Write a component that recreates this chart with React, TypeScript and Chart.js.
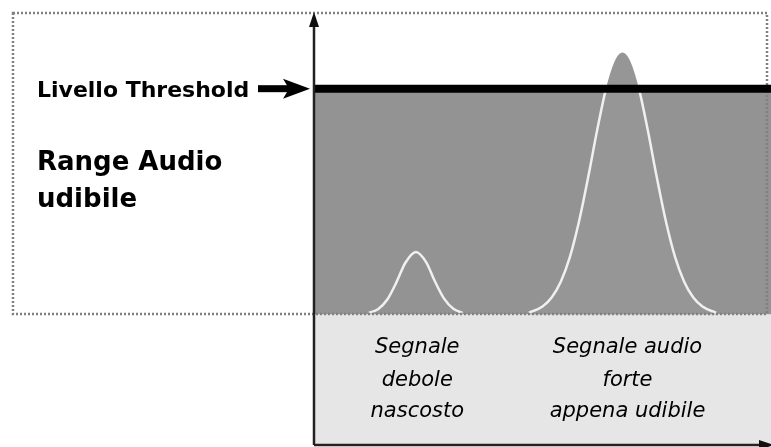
import React, { useEffect, useRef } from "react";
import { Chart, registerables } from "chart.js";

Chart.register(...registerables);

// Scale settings (arbitrary level units; baseline of audible range = 0, threshold = 50)
const X_MIN = 0;
const X_MAX = 100;
const Y_MIN = -29;
const Y_MAX = 67;
const BASELINE = 0;
const THRESHOLD = 50;

// Weak hidden signal (small peak)
const weakX = [12, 14, 16, 18, 20, 22.3, 24.5, 26.5, 28.5, 30.5, 32.5];
const weakY = [0.3, 1.1, 3.2, 7.0, 11.4, 13.8, 11.6, 7.2, 3.4, 1.2, 0.3];

// Strong signal (big peak, just above threshold)
const strongX = [47, 50, 52, 54, 56, 58, 60, 62, 64, 66, 67.5, 69, 71, 73, 75, 77, 79, 81, 83, 85, 88];
const strongY = [0.3, 1.7, 3.7, 7.2, 12.7, 20.6, 30.4, 41, 50.4, 56.5, 58, 56.5, 50.4, 41, 30.4, 20.6, 12.7, 7.2, 3.7, 1.7, 0.3];

// Texts
const thresholdLabel = "Livello Threshold";
const rangeLabel = ["Range Audio", "udibile"];
const weakLabel = ["Segnale", "debole", "nascosto"];
const strongLabel = ["Segnale audio", "forte", "appena udibile"];
const weakLabelX = 22.6;
const strongLabelX = 68.6;

const toPoints = (xs: number[], ys: number[]) => xs.map((x, i) => ({ x, y: ys[i] }));

const FONT = '"DejaVu Sans", sans-serif';

const decorPlugin = {
  id: "decor",
  afterDatasetsDraw(chart: any) {
    const { ctx, chartArea, scales } = chart;
    const xs = scales.x;
    const ys = scales.y;
    const baseY = ys.getPixelForValue(BASELINE);
    const thrY = ys.getPixelForValue(THRESHOLD);
    ctx.save();

    // dotted frame of the "audible range"
    ctx.strokeStyle = "#808080";
    ctx.lineWidth = 2.5;
    ctx.setLineDash([2, 2]);
    ctx.strokeRect(13, 13, 754, Math.round(baseY) - 13);
    ctx.setLineDash([]);

    // threshold line on top
    ctx.strokeStyle = "#000";
    ctx.lineWidth = 8;
    ctx.beginPath();
    ctx.moveTo(chartArea.left, thrY);
    ctx.lineTo(chartArea.right, thrY);
    ctx.stroke();

    // axes
    ctx.strokeStyle = "#222";
    ctx.fillStyle = "#111";
    ctx.lineWidth = 2.5;
    ctx.beginPath();
    ctx.moveTo(chartArea.left, chartArea.bottom);
    ctx.lineTo(chartArea.left, chartArea.top + 6);
    ctx.moveTo(chartArea.left, chartArea.bottom);
    ctx.lineTo(chartArea.right - 6, chartArea.bottom);
    ctx.stroke();
    ctx.beginPath();
    ctx.moveTo(chartArea.left, chartArea.top);
    ctx.lineTo(chartArea.left - 5, chartArea.top + 15);
    ctx.lineTo(chartArea.left + 5, chartArea.top + 15);
    ctx.closePath();
    ctx.fill();
    ctx.beginPath();
    ctx.moveTo(chartArea.right + 3, chartArea.bottom);
    ctx.lineTo(chartArea.right - 12, chartArea.bottom - 5);
    ctx.lineTo(chartArea.right - 12, chartArea.bottom + 5);
    ctx.closePath();
    ctx.fill();

    // threshold arrow
    const tipX = chartArea.left - 4;
    ctx.fillStyle = "#000";
    ctx.strokeStyle = "#000";
    ctx.lineWidth = 7;
    ctx.beginPath();
    ctx.moveTo(tipX - 52, thrY);
    ctx.lineTo(tipX - 20, thrY);
    ctx.stroke();
    ctx.beginPath();
    ctx.moveTo(tipX, thrY);
    ctx.lineTo(tipX - 27, thrY - 10);
    ctx.lineTo(tipX - 21, thrY);
    ctx.lineTo(tipX - 27, thrY + 10);
    ctx.closePath();
    ctx.fill();

    // texts
    ctx.fillStyle = "#000";
    ctx.textAlign = "left";
    ctx.textBaseline = "alphabetic";
    ctx.font = `bold 22px ${FONT}`;
    ctx.fillText(thresholdLabel, 37, thrY + 8);
    ctx.font = `bold 26px ${FONT}`;
    ctx.fillText(rangeLabel[0], 37, 170);
    ctx.fillText(rangeLabel[1], 37, 207);

    ctx.font = `italic 21px ${FONT}`;
    ctx.textAlign = "center";
    const lineYs = [chartArea.bottom - 92, chartArea.bottom - 59, chartArea.bottom - 28];
    weakLabel.forEach((t, i) => ctx.fillText(t, xs.getPixelForValue(weakLabelX), lineYs[i]));
    strongLabel.forEach((t, i) => ctx.fillText(t, xs.getPixelForValue(strongLabelX), lineYs[i]));
    ctx.restore();
  },
};

export default function App() {
  const ref = useRef<HTMLCanvasElement | null>(null);
  useEffect(() => {
    if (!ref.current) return;
    const above = (ctx: any) =>
      ctx.p0.parsed.y >= THRESHOLD && ctx.p1.parsed.y >= THRESHOLD ? "rgba(0,0,0,0)" : undefined;
    const chart = new Chart(ref.current, {
      type: "line",
      data: {
        datasets: [
          {
            label: "lower band",
            data: toPoints([X_MIN, X_MAX], [BASELINE, BASELINE]),
            fill: "start",
            backgroundColor: "#e6e6e6",
            borderWidth: 0,
            pointRadius: 0,
            order: 6,
          },
          {
            label: "audible range",
            data: toPoints([X_MIN, X_MAX], [THRESHOLD, THRESHOLD]),
            fill: { value: BASELINE },
            backgroundColor: "#939393",
            borderWidth: 0,
            pointRadius: 0,
            order: 5,
          },
          {
            label: "strong fill",
            data: toPoints(strongX, strongY),
            fill: { value: BASELINE },
            backgroundColor: "#969696",
            borderWidth: 0,
            pointRadius: 0,
            cubicInterpolationMode: "monotone",
            order: 4,
          },
          {
            label: "strong line",
            data: toPoints(strongX, strongY),
            fill: false,
            borderColor: "#f0f0f0",
            borderWidth: 2.5,
            pointRadius: 0,
            cubicInterpolationMode: "monotone",
            segment: { borderColor: above },
            order: 3,
          },
          {
            label: "weak line",
            data: toPoints(weakX, weakY),
            fill: false,
            borderColor: "#f0f0f0",
            borderWidth: 2.5,
            pointRadius: 0,
            cubicInterpolationMode: "monotone",
            order: 3,
          },
        ],
      },
      options: {
        animation: false,
        responsive: false,
        maintainAspectRatio: false,
        layout: { padding: { left: 314, top: 12, right: 0, bottom: 2 } },
        plugins: { legend: { display: false }, tooltip: { enabled: false } },
        scales: {
          x: { type: "linear", min: X_MIN, max: X_MAX, display: false },
          y: { type: "linear", min: Y_MIN, max: Y_MAX, display: false },
        },
      },
      plugins: [decorPlugin],
    });
    return () => chart.destroy();
  }, []);
  return (
    <div style={{ position: "absolute", left: 0, top: 0, width: 771, height: 447, background: "#fff" }}>
      <canvas ref={ref} width={771} height={447} style={{ display: "block" }} />
    </div>
  );
}
